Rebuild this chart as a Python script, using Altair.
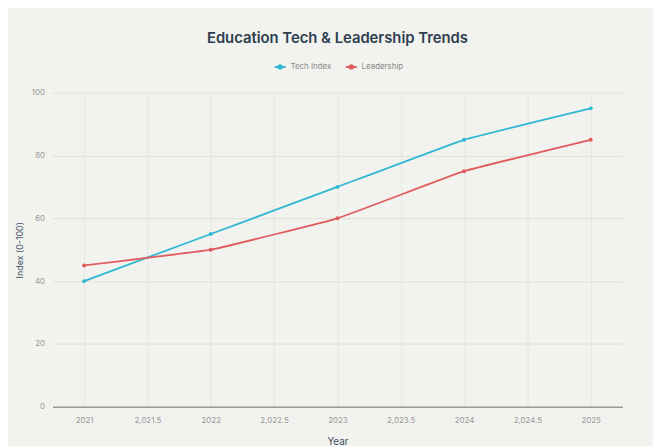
import altair as alt
import pandas as pd

years = [2021, 2022, 2023, 2024, 2025]
tech_index = [40, 55, 70, 85, 95]
leadership = [45, 50, 60, 75, 85]
series_names = ["Tech Index", "Leadership"]
series_colors = ["#2fb8d3", "#e05b5e"]
x_ticks = [2021, 2021.5, 2022, 2022.5, 2023, 2023.5, 2024, 2024.5, 2025]
y_ticks = [0, 20, 40, 60, 80, 100]

rows = []
for y, t, l in zip(years, tech_index, leadership):
    rows.append({"Year": y, "Series": series_names[0], "Value": t})
    rows.append({"Year": y, "Series": series_names[1], "Value": l})
df = pd.DataFrame(rows)

label_expr = "datum.value % 1 == 0 ? toString(datum.value) : format(datum.value, ',.1f')"

chart = alt.Chart(df).mark_line(
    strokeWidth=1.8, interpolate="cardinal", tension=0.75,
    point=alt.OverlayMarkDef(size=16, filled=True)
).encode(
    x=alt.X("Year:Q", title="Year",
            scale=alt.Scale(domain=[2020.75, 2025.25], nice=False, zero=False),
            axis=alt.Axis(values=x_ticks, labelExpr=label_expr, ticks=False,
                          domainColor="#9a9a9a", domainWidth=1.5,
                          gridColor="#e6e6e1", labelColor="#999999", labelFontSize=8,
                          labelPadding=10, titleColor="#3d4f5f", titleFontSize=10,
                          titleFontWeight="normal", titlePadding=12)),
    y=alt.Y("Value:Q", title="Index (0-100)",
            scale=alt.Scale(domain=[0, 100], nice=False),
            axis=alt.Axis(values=y_ticks, ticks=False, domain=False,
                          gridColor="#e0e0db", labelColor="#999999", labelFontSize=8,
                          labelPadding=8, titleColor="#3d4f5f", titleFontSize=9,
                          titleFontWeight="normal", titlePadding=7)),
    color=alt.Color("Series:N",
                    scale=alt.Scale(domain=series_names, range=series_colors),
                    legend=alt.Legend(title=None, orient="none", direction="horizontal",
                                      legendX=224, legendY=-33,
                                      labelFontSize=8, labelColor="#888888",
                                      symbolType="M-1,0L1,0M-0.3,0a0.3,0.3 0 1,0 0.6,0a0.3,0.3 0 1,0 -0.6,0",
                                      symbolSize=120, symbolStrokeWidth=2,
                                      columnPadding=10)),
).properties(
    width=577, height=318,
    title=alt.TitleParams("Education Tech & Leadership Trends", fontSize=15,
                          fontWeight=600, color="#2c3e50", font="Inter", offset=14),
    background="#f2f2ee",
    padding={"left": 45, "top": 83, "right": 31, "bottom": 37},
    autosize=alt.AutoSizeParams(type="none"),
).configure(font="Inter").configure_view(stroke=None)

chart.save("out.html", embed_options={"renderer": "svg", "actions": False})
